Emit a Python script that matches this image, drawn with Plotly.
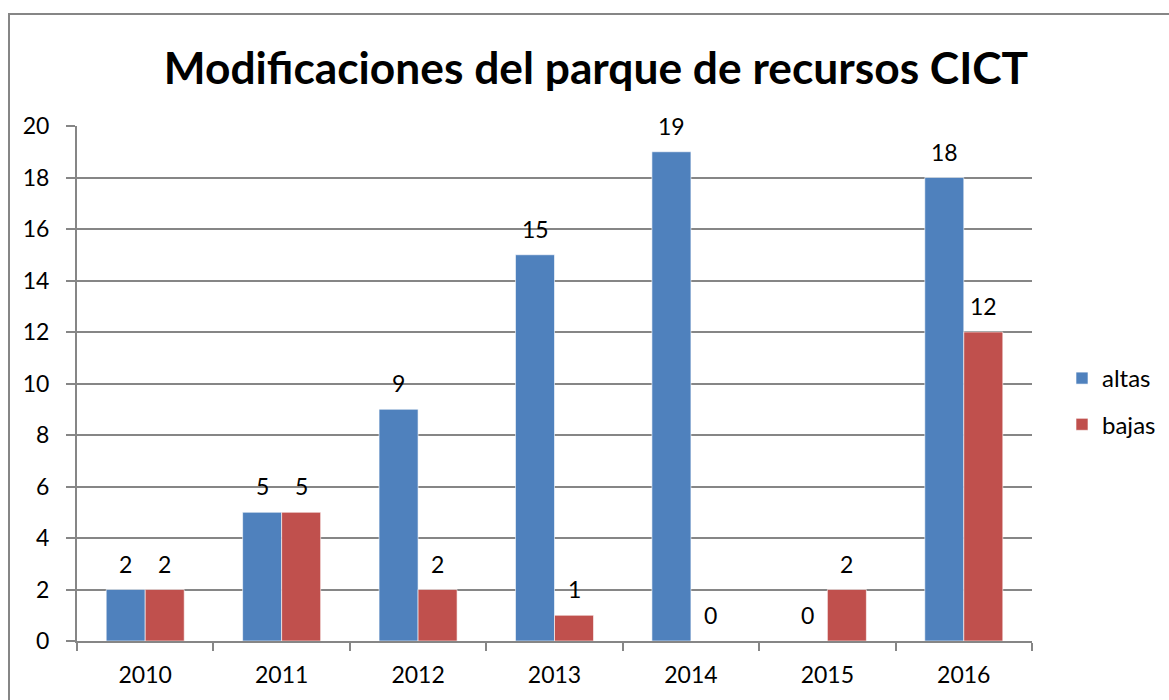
import plotly.graph_objects as go

years = ["2010", "2011", "2012", "2013", "2014", "2015", "2016"]
altas = [2, 5, 9, 15, 19, 0, 18]
bajas = [2, 5, 2, 1, 0, 2, 12]
series_names = ["altas", "bajas"]
title_text = "Modificaciones del parque de recursos CICT"

FONT = "Lato"
W, H = 1169, 700
L, R, T, B = 77, 1032, 126, 641
pw, ph = R - L, B - T
COLORS = ["#4F81BD", "#C0504D"]
BAR_PX = 39

def px_x(p):
    return (p - L) / pw

def px_y(p):
    return (B - p) / ph

fig = go.Figure()
for i, (name, vals) in enumerate(zip(series_names, [altas, bajas])):
    fig.add_trace(go.Bar(name=name, x=years, y=vals, marker_color=COLORS[i],
                         legendgroup=name,
                         marker_line=dict(color="rgba(255,255,255,0.6)", width=1)))
    shift = -BAR_PX / 2 if i == 0 else BAR_PX / 2
    for k, v in enumerate(vals):
        # category axis: annotation x given as category index
        fig.add_annotation(x=k, y=v, xref="x", yref="y", text=str(v), showarrow=False,
                           xshift=shift, yshift=26, yanchor="middle",
                           font=dict(family=FONT, size=23, color="black"))

fig.update_layout(
    width=W, height=H,
    margin=dict(l=L, r=W - R, t=T, b=H - B, pad=0, autoexpand=False),
    paper_bgcolor="white", plot_bgcolor="white",
    barmode="group", bargap=0.428, bargroupgap=0,
    font=dict(family=FONT, size=23, color="black"),
    title=dict(text="<b>" + title_text + "</b>", x=px_x(596), xref="paper", xanchor="center",
               y=1 - 68 / H, yref="container", yanchor="middle",
               font=dict(family=FONT, size=44.3, color="black")),
    legend=dict(x=px_x(1062), y=px_y(356), xanchor="left", yanchor="top",
                font=dict(family=FONT, size=24, color="black"),
                itemwidth=30, tracegroupgap=12, traceorder="grouped",
                bgcolor="rgba(0,0,0,0)"),
    xaxis=dict(type="category", categoryorder="array", categoryarray=years,
               range=[-0.5, len(years) - 0.5], autorange=False,
               showline=True, linecolor="#868686", linewidth=2,
               ticks="outside", tickson="boundaries", ticklen=8, tickcolor="#868686",
               tickwidth=2, tickfont=dict(family=FONT, size=23, color="black"),
               ticklabelstandoff=12, showgrid=False, tickangle=0),
    yaxis=dict(range=[0, 20], dtick=2, showline=True, linecolor="#868686", linewidth=2,
               ticks="outside", ticklen=9, tickcolor="#868686", tickwidth=2,
               gridcolor="#868686", gridwidth=1.5, zeroline=False,
               ticklabelstandoff=12,
               tickfont=dict(family=FONT, size=23, color="black")),
)

fig.add_shape(type="rect", xref="paper", yref="paper",
              x0=px_x(9), x1=px_x(1250), y0=px_y(760), y1=px_y(14),
              line=dict(color="#868686", width=2), fillcolor="rgba(0,0,0,0)", layer="below")

fig.write_html("out.html", config={"displayModeBar": False},
               post_script="document.body.style.margin='0';document.body.style.overflow='hidden';")
